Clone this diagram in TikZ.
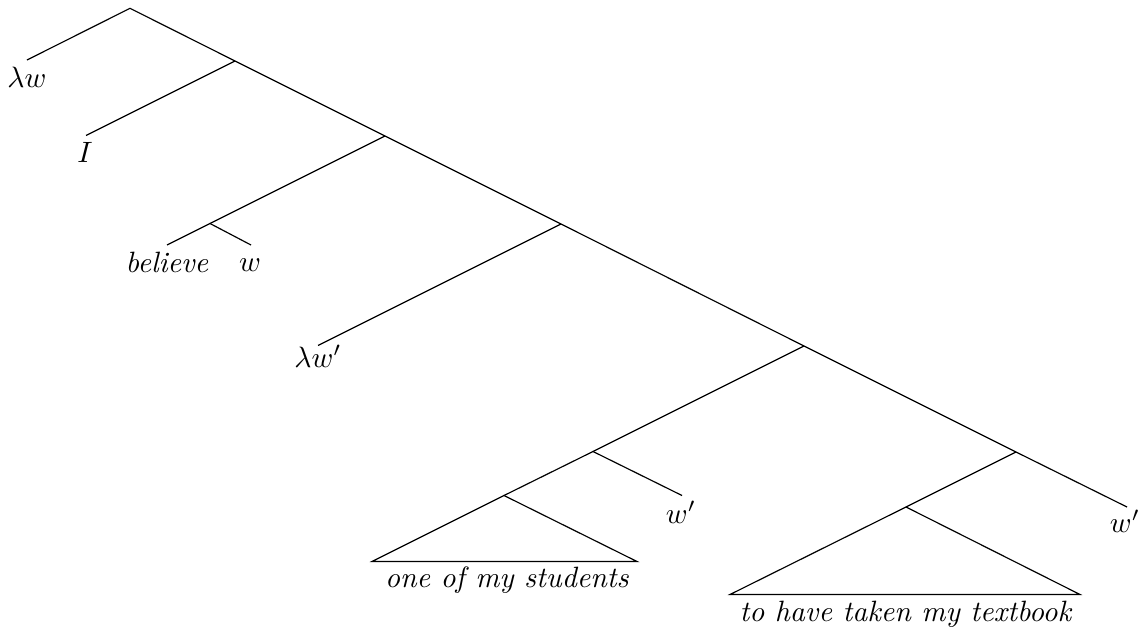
\documentclass[tikz,border=0pt]{standalone}
\begin{document}
\begin{tikzpicture}[x=0.34pt,y=-0.34pt,
  branch/.style={line width=0.4pt, line join=miter},
  leaf/.style={anchor=base, inner sep=0pt, font=\normalsize}]
\useasboundingbox (0,0) rectangle (1145,628);
% tree points
\coordinate (root) at (130,8.3);
\coordinate (n2) at (235,61);
\coordinate (n3) at (385,136);
\coordinate (n4) at (561,224);
\coordinate (n5) at (804,346);
\coordinate (n6) at (1016,452);
\coordinate (endR) at (1127,507);
\coordinate (lwE) at (27,60);
\coordinate (IE) at (86,135.5);
\coordinate (bw) at (210,223.5);
\coordinate (believeE) at (167,245);
\coordinate (wE) at (251,245);
\coordinate (lwpE) at (318,345.5);
\coordinate (n7) at (593,451.5);
\coordinate (wpE) at (682,495.5);
\coordinate (t1) at (504,495.5);
\coordinate (t1L) at (372,561.5);
\coordinate (t1R) at (637,561.5);
\coordinate (t2) at (906,507);
\coordinate (t2L) at (730,594.5);
\coordinate (t2R) at (1080,594.5);
% branches
\draw[branch] (lwE) -- (root) -- (n2) -- (n3) -- (n4) -- (n5) -- (n6) -- (endR);
\draw[branch] (n2) -- (IE);
\draw[branch] (n3) -- (bw);
\draw[branch] (believeE) -- (bw) -- (wE);
\draw[branch] (n4) -- (lwpE);
\draw[branch] (n5) -- (n7);
\draw[branch] (t1) -- (n7) -- (wpE);
\draw[branch] (t1) -- (t1L) -- (t1R) -- cycle;
\draw[branch] (n6) -- (t2);
\draw[branch] (t2) -- (t2L) -- (t2R) -- cycle;
% labels
\node[leaf] (lw) at (27,87) {$\lambda w$};
\node[leaf] (I) at (85,162) {$I$};
\node[leaf] (believe) at (167,272) {\textit{believe}};
\node[leaf] (w) at (250,271) {$w$};
\node[leaf] (lwp) at (318,367) {$\lambda w'$};
\node[leaf] (wp1) at (681,523) {$w'$};
\node[leaf] (oms) at (507,587) {\textit{one of my students}};
\node[leaf] (thtmt) at (906,621) {\textit{to have taken my textbook}};
\node[leaf] (wp2) at (1125,532) {$w'$};
\end{tikzpicture}
\end{document}
